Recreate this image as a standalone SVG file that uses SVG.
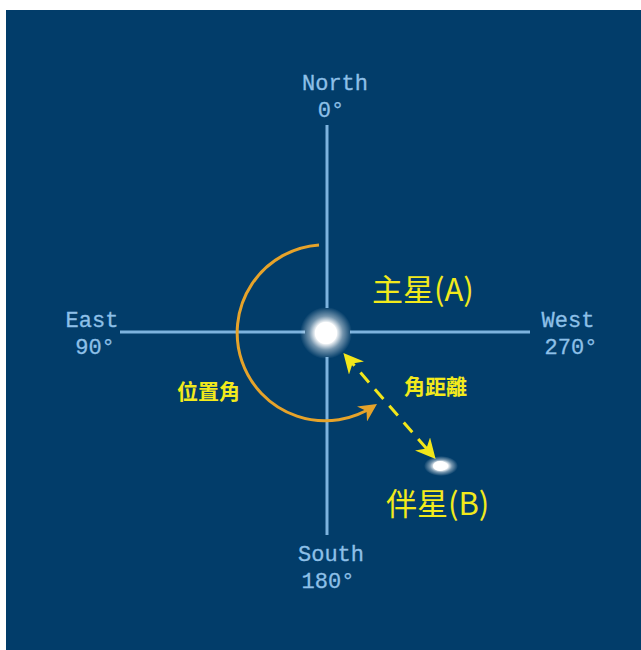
<svg xmlns="http://www.w3.org/2000/svg" width="641" height="650" viewBox="0 0 641 650">
  <defs>
    <style>
      .axis { stroke: #7db3de; stroke-width: 3; fill: none; }
      .dir { font-family: "Liberation Mono", "DejaVu Sans Mono", monospace; font-size: 22px; fill: #8ec0e8; text-anchor: middle; stroke: #8ec0e8; stroke-width: 0.3; }
      .big { font-family: "Noto Sans CJK TC", "Noto Sans CJK SC", sans-serif; font-size: 31px; fill: #f2ea1c; }
      .small { font-family: "Noto Sans CJK TC", "Noto Sans CJK SC", sans-serif; font-size: 21px; font-weight: bold; fill: #f2ea1c; }
    </style>
    <radialGradient id="glow">
      <stop offset="0" stop-color="#ffffff"/>
      <stop offset="0.4" stop-color="#ffffff"/>
      <stop offset="0.65" stop-color="#ffffff" stop-opacity="0.45"/>
      <stop offset="1" stop-color="#ffffff" stop-opacity="0"/>
    </radialGradient>
    <marker id="orangeHead" viewBox="0 0 10 10" refX="8" refY="5" markerWidth="18" markerHeight="18" orient="auto" markerUnits="userSpaceOnUse">
      <path d="M0,0 L10,5 L0,10 L3,5 Z" fill="#e6a32a"/>
    </marker>
    <marker id="yellowHead" viewBox="0 0 10 10" refX="8" refY="5" markerWidth="20" markerHeight="20" orient="auto-start-reverse" markerUnits="userSpaceOnUse">
      <path d="M0,0 L10,5 L0,10 L3,5 Z" fill="#f2e61a"/>
    </marker>
  </defs>

  <rect x="0" y="0" width="641" height="650" fill="#ffffff"/>
  <rect x="6" y="10" width="635" height="640" fill="#023d6a"/>

  <!-- compass axes, broken around the primary star -->
  <g id="axes">
    <line class="axis" x1="327" y1="125" x2="327" y2="308"/>
    <line class="axis" x1="327" y1="357" x2="327" y2="535"/>
    <line class="axis" x1="120" y1="332" x2="305" y2="332"/>
    <line class="axis" x1="350" y1="332" x2="530" y2="332"/>
  </g>

  <g id="labels-compass">
    <text class="dir" x="335" y="90">North</text>
    <text class="dir" x="331" y="117">0°</text>
    <text class="dir" x="92" y="327">East</text>
    <text class="dir" x="95" y="354">90°</text>
    <text class="dir" x="568" y="327">West</text>
    <text class="dir" x="571" y="354">270°</text>
    <text class="dir" x="331" y="561">South</text>
    <text class="dir" x="328" y="588">180°</text>
  </g>

  <!-- connectors: position-angle arc and separation arrow -->
  <g id="connectors">
    <path d="M319,245 A88,88 0 1 0 374,406" fill="none" stroke="#e6a32a" stroke-width="3" marker-end="url(#orangeHead)"/>
    <line x1="346" y1="356" x2="433" y2="456" stroke="#f2e61a" stroke-width="3" stroke-dasharray="13,9" marker-start="url(#yellowHead)" marker-end="url(#yellowHead)"/>
  </g>

  <g id="star-a">
    <circle cx="326" cy="333" r="26" fill="url(#glow)"/>
    <circle cx="326" cy="333" r="11" fill="#ffffff"/>
  </g>

  <g id="star-b">
    <ellipse cx="441" cy="466" rx="17" ry="10" fill="url(#glow)"/>
    <ellipse cx="440" cy="466" rx="7" ry="5" fill="#ffffff"/>
  </g>

  <g id="text-labels">
    <text class="big" x="372" y="301">主星(A)</text>
    <text class="big" x="386" y="515">伴星(B)</text>
    <text class="small" x="404" y="394">角距離</text>
    <text class="small" x="177" y="399">位置角</text>
  </g>
</svg>
